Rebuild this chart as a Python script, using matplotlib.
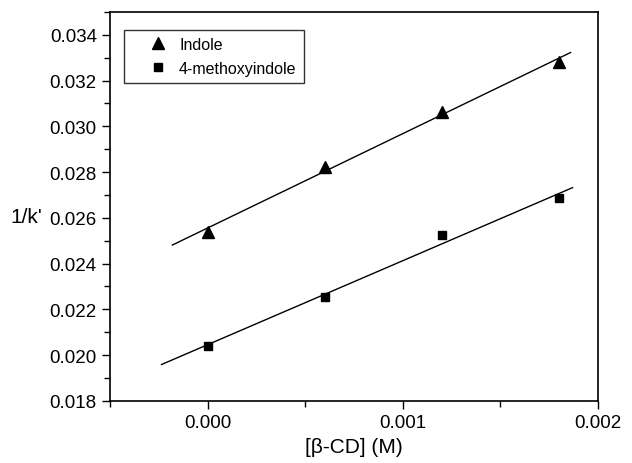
import matplotlib.pyplot as plt
import numpy as np
from matplotlib.ticker import MultipleLocator, FormatStrFormatter

plt.rcParams['font.family'] = ['Liberation Sans', 'DejaVu Sans']

# Dados
conc = [0.0, 0.0006, 0.0012, 0.0018]
indole = [0.02537, 0.02824, 0.03064, 0.03282]
methoxyindole = [0.02041, 0.02253, 0.02524, 0.02685]
fit_range_indole = [-0.00018, 0.00186]
fit_range_methoxy = [-0.000236, 0.00187]

fig = plt.figure(figsize=(6.32, 4.64), dpi=100)
ax = fig.add_axes([0.174, 0.134, 0.772, 0.838])

# Pontos experimentais
ax.plot(conc, indole, '^', color='black', markersize=8.5, label='Indole')
ax.plot(conc, methoxyindole, 's', color='black', markersize=6, label='4-methoxyindole')

# Ajustes lineares
for y, xr in [(indole, fit_range_indole), (methoxyindole, fit_range_methoxy)]:
    p = np.polyfit(conc, y, 1)
    xs = np.array(xr)
    ax.plot(xs, np.polyval(p, xs), '-', color='black', linewidth=1.0)

ax.set_xlim(-0.0005, 0.002)
ax.set_ylim(0.018, 0.035)
ax.xaxis.set_major_locator(MultipleLocator(0.001))
ax.xaxis.set_minor_locator(MultipleLocator(0.0005))
ax.yaxis.set_major_locator(MultipleLocator(0.002))
ax.yaxis.set_minor_locator(MultipleLocator(0.001))
ax.xaxis.set_major_formatter(FormatStrFormatter('%.3f'))
ax.yaxis.set_major_formatter(FormatStrFormatter('%.3f'))
ax.tick_params(which='both', direction='out', top=False, right=False, labelsize=13.5, width=1.0)
ax.tick_params(which='major', length=6)
ax.tick_params(which='minor', length=4)
for s in ax.spines.values():
    s.set_linewidth(1.2)

ax.set_xlabel('[β-CD] (M)', fontsize=15, labelpad=4)
ax.set_ylabel("1/k'", fontsize=15, rotation=0, va='center', ha='center')
ax.yaxis.set_label_coords(-0.172, 0.473)

leg = ax.legend(loc='upper left', bbox_to_anchor=(0.0287, 0.954), borderaxespad=0,
                fontsize=11.5, frameon=True, fancybox=False, edgecolor='black',
                handlelength=3.3, handletextpad=-0.3, borderpad=0.45, labelspacing=0.55)
leg.get_frame().set_linewidth(1.0)

plt.savefig('out.png', dpi=100)
plt.close()
